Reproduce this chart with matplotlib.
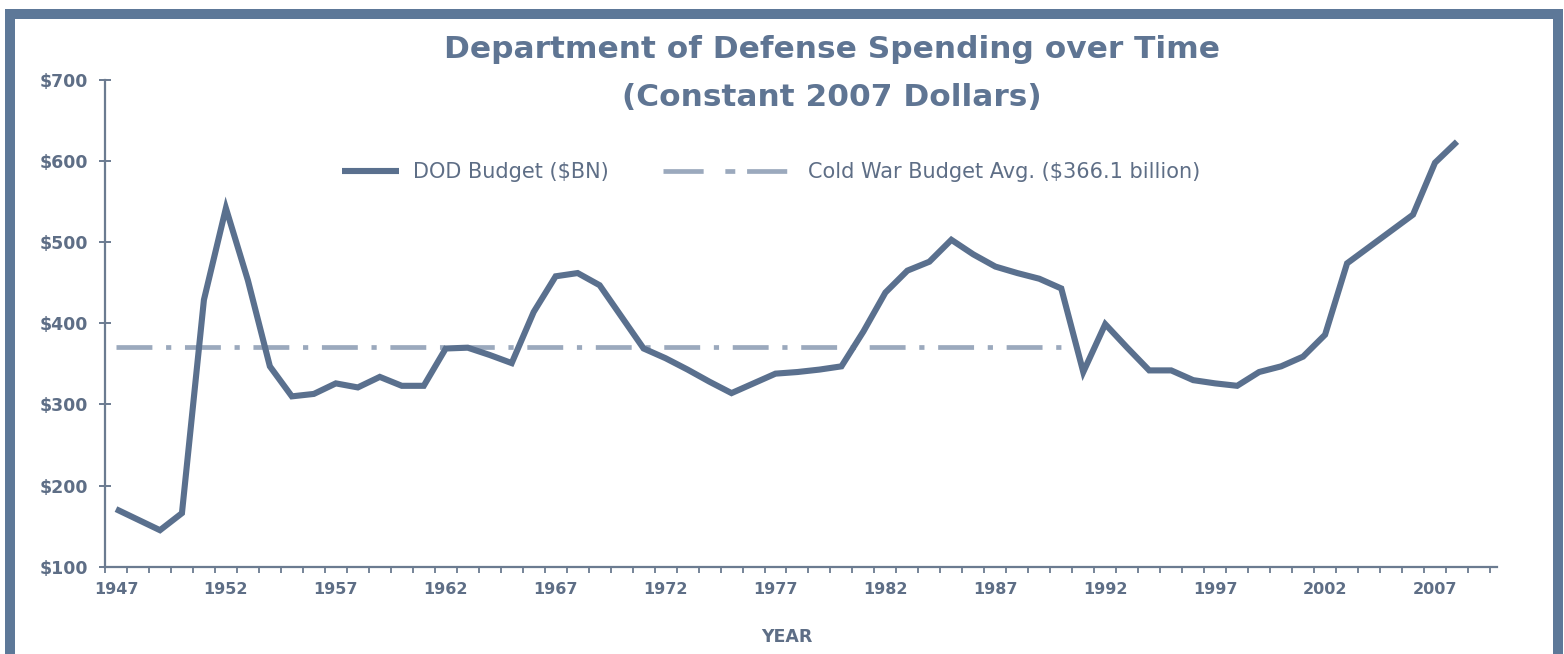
import matplotlib
matplotlib.use("Agg")
import matplotlib.pyplot as plt
import numpy as np
from matplotlib.lines import Line2D
from matplotlib.patches import Rectangle

# ---- data ----
years = list(range(1947, 2009))
dod_budget = [171, 158, 145, 166, 429, 542, 453, 347, 310, 313,
              326, 321, 334, 323, 323, 369, 370, 361, 351, 414,
              458, 462, 447, 408, 369, 357, 343, 328, 314, 326,
              338, 340, 343, 347, 390, 438, 465, 476, 503, 485,
              470, 462, 455, 443, 340, 399, 370, 342, 342, 330,
              326, 323, 340, 347, 359, 386, 474, 494, 514, 534,
              598, 624]
cold_war_years = [1947, 1990]
cold_war_avg = 371
label_years = list(range(1947, 2008, 5))
y_ticks = [100, 200, 300, 400, 500, 600, 700]
y_labels = ["$100", "$200", "$300", "$400", "$500", "$600", "$700"]

MAIN = "#5a708e"
DASH = "#9ba9bd"
AXC = "#6b7b90"
TXT = "#5e6e86"
TITLE = "#5f7593"
BORDER = "#5d7898"

W, H = 1564, 654
fig = plt.figure(figsize=(W / 100, H / 100), dpi=100)
fig.patch.set_facecolor("white")

ax = fig.add_axes([105 / W, 1 - 566.7 / H, (1497 - 105) / W, (566.7 - 80) / H])
ax.set_facecolor("none")

DASHES = (7.6, 2.9, 1.1, 2.9)
ax.plot(years, dod_budget, color=MAIN, lw=4.4, solid_joinstyle="miter",
        solid_capstyle="butt", zorder=3)
ax.plot(cold_war_years, [cold_war_avg] * 2, color=DASH, lw=3.4,
        dashes=DASHES, dash_capstyle="butt", zorder=2)

ax.set_xlim(1946.55, 2009.82)
ax.set_ylim(100, 700)

for s in ["top", "right"]:
    ax.spines[s].set_visible(False)
for s in ["left", "bottom"]:
    ax.spines[s].set_color(AXC)
    ax.spines[s].set_linewidth(1.6)

ax.set_yticks(y_ticks)
ax.set_yticklabels(y_labels)
ax.tick_params(axis="y", direction="inout", length=8, width=1.4, color=AXC,
               pad=8.2, labelsize=12.5, labelcolor=TXT)
for t in ax.get_yticklabels():
    t.set_fontweight("bold")

ax.set_xticks(label_years)
ax.set_xticklabels([str(y) for y in label_years])
ax.set_xticks(np.arange(1946.5, 2010, 1.0), minor=True)
ax.tick_params(axis="x", which="major", length=0, pad=11, labelsize=11.5,
               labelcolor=TXT)
ax.tick_params(axis="x", which="minor", direction="out", length=4.5,
               width=1.3, color=AXC)
for t in ax.get_xticklabels():
    t.set_fontweight("bold")

ax.set_xlabel("YEAR", fontsize=12.5, fontweight="bold", color=TXT)
ax.xaxis.set_label_coords((787 - 105) / 1392, -(637 - 566.7) / (566.7 - 80))
ax.xaxis.label.set_va("center")

# title
fig.text(832 / W, 1 - 50 / H, "Department of Defense Spending over Time",
         ha="center", va="center", fontsize=22.5, fontweight="bold", color=TITLE)
fig.text(832 / W, 1 - 97 / H, "(Constant 2007 Dollars)",
         ha="center", va="center", fontsize=22.5, fontweight="bold", color=TITLE)

# legends
h1 = Line2D([], [], color=MAIN, lw=4.4, solid_capstyle="butt")
h2 = Line2D([], [], color=DASH, lw=3.4, dashes=(8.5, 4.6, 2.1, 2.5),
            dash_capstyle="butt")
LFS = 15
leg1 = fig.legend([h1], ["DOD Budget ($BN)"], loc="center left",
                  bbox_to_anchor=(342 / W, 1 - 172 / H), frameon=False,
                  borderpad=0, borderaxespad=0, handlelength=2.75,
                  handletextpad=0.65, fontsize=LFS, labelcolor=TXT)
leg2 = fig.legend([h2], ["Cold War Budget Avg. ($366.1 billion)"], loc="center left",
                  bbox_to_anchor=(663 / W, 1 - 172 / H), frameon=False,
                  borderpad=0, borderaxespad=0, handlelength=6.0,
                  handletextpad=0.95, fontsize=LFS, labelcolor=TXT)

# outer frame
fig.patches.append(Rectangle((10 / W, -0.1), (1558 - 10) / W, 1.1 - 14.5 / H,
                             transform=fig.transFigure, fill=False,
                             edgecolor=BORDER, lw=7.2, zorder=0))

fig.savefig("out.png", dpi=100, facecolor=fig.get_facecolor())
